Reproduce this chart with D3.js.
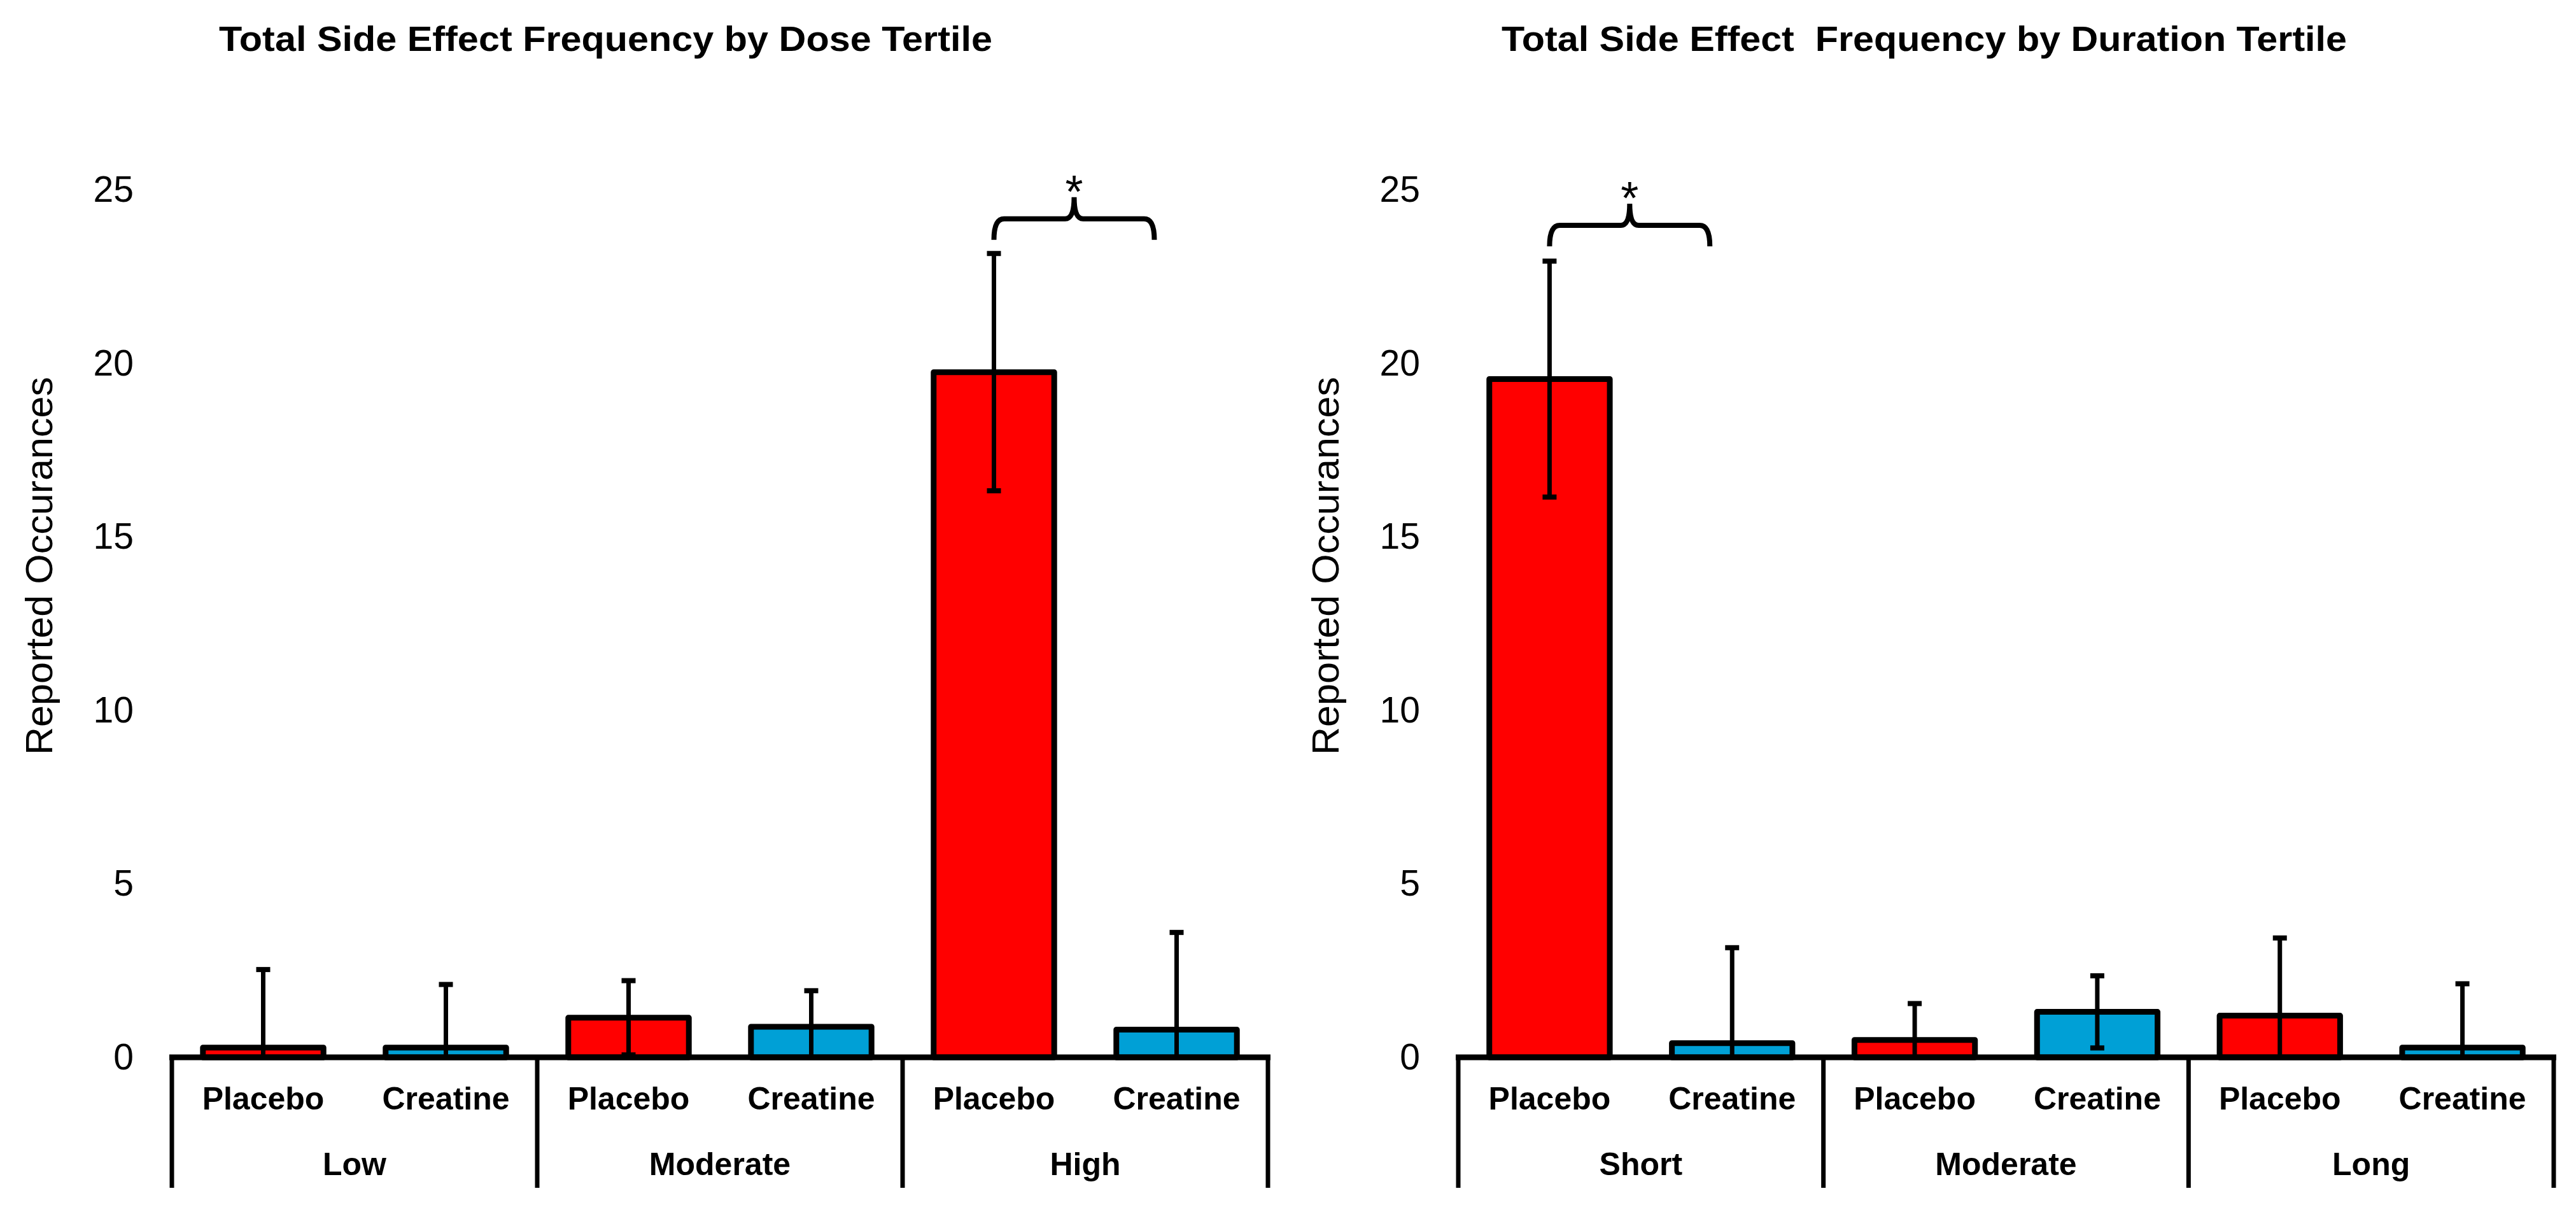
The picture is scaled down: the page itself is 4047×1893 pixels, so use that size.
<!DOCTYPE html>
<html>
<head>
<meta charset="utf-8">
<script src="https://cdn.jsdelivr.net/npm/d3@7"></script>
<style>
  html, body { margin: 0; padding: 0; background: #fff; }
  svg { display: block; }
  .tick text { font-family: "Liberation Sans", Arial, sans-serif; }
</style>
</head>
<body>
<div id="chart"></div>
<script>
const groups = ['Placebo', 'Creatine']

const doseTertiles = ['Low', 'Moderate', 'High']
const dosePlacebo = [0.28, 1.14, 19.75]
const doseCreatine = [0.28, 0.88, 0.8]
const dosePlaceboSd = [2.25, 1.07, 3.42]
const doseCreatineSd = [1.82, 1.04, 2.8]

const durationTertiles = ['Short', 'Moderate', 'Long']
const durationPlacebo = [19.55, 0.5, 1.2]
const durationCreatine = [0.41, 1.31, 0.28]
const durationPlaceboSd = [3.4, 1.05, 2.24]
const durationCreatineSd = [2.75, 1.04, 1.84]

const yTicks = [0, 5, 10, 15, 20, 25]
const colors = { Placebo: '#ff0000', Creatine: '#00a0d6' }

const width = 4047
const height = 1893
const y0 = 1661

const svg = d3.select('#chart')
  .append('svg')
  .attr('width', width)
  .attr('height', height)
  .attr('viewBox', `0 0 ${width} ${height}`)

const y = d3.scaleLinear().domain([0, 25]).range([y0, y0 - 25 * 54.5])

drawPanel(svg, {
  id: 'dose',
  title: 'Total Side Effect Frequency by Dose Tertile',
  titleX: 344, titleW: 1215,
  left: 270, right: 1992,
  categories: doseTertiles,
  placebo: dosePlacebo, creatine: doseCreatine,
  placeboSd: dosePlaceboSd, creatineSd: doseCreatineSd,
  sig: { category: 'High', level: 24.17 }
})

drawPanel(svg, {
  id: 'duration',
  title: 'Total Side Effect  Frequency by Duration Tertile',
  titleX: 2359, titleW: 1328,
  left: 2291, right: 4012,
  categories: durationTertiles,
  placebo: durationPlacebo, creatine: durationCreatine,
  placeboSd: durationPlaceboSd, creatineSd: durationCreatineSd,
  sig: { category: 'Short', level: 23.98 }
})

function drawPanel(svg, p) {
  const rows = p.categories.flatMap((c, i) => [
    { category: c, group: 'Placebo', value: p.placebo[i], sd: p.placeboSd[i] },
    { category: c, group: 'Creatine', value: p.creatine[i], sd: p.creatineSd[i] }
  ])

  const x0 = d3.scaleBand().domain(p.categories).range([p.left, p.right]).padding(0)
  const x1 = d3.scaleBand().domain(groups)
    .range([0, x0.bandwidth()])
    .paddingInner(0.34)
    .paddingOuter(0.17)
  const cx = d => x0(d.category) + x1(d.group) + x1.bandwidth() / 2

  const g = svg.append('g').attr('class', p.id)

  // title
  g.append('text')
    .attr('x', p.titleX)
    .attr('y', 80)
    .attr('textLength', p.titleW)
    .attr('lengthAdjust', 'spacingAndGlyphs')
    .style('font-family', '"Liberation Sans", Arial, sans-serif')
    .style('font-weight', 'bold')
    .style('font-size', '56px')
    .style('white-space', 'pre')
    .text(p.title)

  // y axis, labels only
  const yAxis = g.append('g')
    .attr('transform', `translate(${p.left},0)`)
    .call(d3.axisLeft(y).tickValues(yTicks).tickSize(0).tickPadding(60))
  yAxis.select('.domain').remove()
  yAxis.selectAll('text')
    .style('font-size', '57px')
    .attr('fill', '#000')

  g.append('text')
    .attr('transform', `translate(${p.left - 188},889) rotate(-90)`)
    .attr('text-anchor', 'middle')
    .attr('textLength', 594)
    .attr('lengthAdjust', 'spacingAndGlyphs')
    .style('font-family', '"Liberation Sans", Arial, sans-serif')
    .style('font-size', '59px')
    .text('Reported Occurances')

  // bars
  g.selectAll('.bar')
    .data(rows)
    .enter()
    .append('rect')
    .attr('class', 'bar')
    .attr('x', d => x0(d.category) + x1(d.group))
    .attr('y', d => y(d.value))
    .attr('width', x1.bandwidth())
    .attr('height', d => y0 - y(d.value))
    .attr('fill', d => colors[d.group])
    .attr('stroke', '#000')
    .attr('stroke-width', 9)
    .attr('stroke-linejoin', 'round')

  // baseline and category dividers
  g.append('line')
    .attr('x1', p.left - 4).attr('x2', p.right + 4)
    .attr('y1', y0).attr('y2', y0)
    .attr('stroke', '#000')
    .attr('stroke-width', 9)

  const edges = p.categories.map(c => x0(c)).concat([p.right])
  g.selectAll('.divider')
    .data(edges)
    .enter()
    .append('line')
    .attr('class', 'divider')
    .attr('x1', d => d).attr('x2', d => d)
    .attr('y1', y0).attr('y2', y0 + 205)
    .attr('stroke', '#000')
    .attr('stroke-width', 7)

  // error bars, clipped at the baseline
  svg.append('clipPath')
    .attr('id', `clip-${p.id}`)
    .append('rect')
    .attr('x', p.left - 50)
    .attr('y', 0)
    .attr('width', p.right - p.left + 100)
    .attr('height', y0 - 2)

  const err = g.append('g').attr('clip-path', `url(#clip-${p.id})`)
  err.selectAll('.err')
    .data(rows)
    .enter()
    .append('line')
    .attr('class', 'err')
    .attr('x1', cx).attr('x2', cx)
    .attr('y1', d => y(d.value + d.sd))
    .attr('y2', d => y(d.value - d.sd))
    .attr('stroke', '#000')
    .attr('stroke-width', 7)

  const caps = rows.flatMap(d => [
    { x: cx(d), v: d.value + d.sd },
    { x: cx(d), v: d.value - d.sd }
  ])
  err.selectAll('.cap')
    .data(caps)
    .enter()
    .append('line')
    .attr('class', 'cap')
    .attr('x1', d => d.x - 11).attr('x2', d => d.x + 11)
    .attr('y1', d => y(d.v)).attr('y2', d => y(d.v))
    .attr('stroke', '#000')
    .attr('stroke-width', 8)

  // group and category labels
  g.selectAll('.group-label')
    .data(rows)
    .enter()
    .append('text')
    .attr('class', 'group-label')
    .attr('x', cx)
    .attr('y', 1743)
    .attr('text-anchor', 'middle')
    .style('font-family', '"Liberation Sans", Arial, sans-serif')
    .style('font-weight', 'bold')
    .style('font-size', '50px')
    .text(d => d.group)

  g.selectAll('.cat-label')
    .data(p.categories)
    .enter()
    .append('text')
    .attr('class', 'cat-label')
    .attr('x', d => x0(d) + x0.bandwidth() / 2)
    .attr('y', 1846)
    .attr('text-anchor', 'middle')
    .style('font-family', '"Liberation Sans", Arial, sans-serif')
    .style('font-weight', 'bold')
    .style('font-size', '50px')
    .text(d => d)

  // significance brace
  const bx0 = x0(p.sig.category) + x1('Placebo') + x1.bandwidth() / 2
  const bx1 = x0(p.sig.category) + x1('Creatine') + x1.bandwidth() / 2 - 35
  const bm = (bx0 + bx1) / 2
  const by = y(p.sig.level)
  const path = d3.path()
  path.moveTo(bx0, by + 33)
  path.quadraticCurveTo(bx0, by, bx0 + 16, by)
  path.lineTo(bm - 14, by)
  path.quadraticCurveTo(bm, by, bm, by - 34)
  path.quadraticCurveTo(bm, by, bm + 14, by)
  path.lineTo(bx1 - 16, by)
  path.quadraticCurveTo(bx1, by, bx1, by + 33)

  g.append('path')
    .attr('d', path.toString())
    .attr('fill', 'none')
    .attr('stroke', '#000')
    .attr('stroke-width', 8)

  g.append('text')
    .attr('x', bm)
    .attr('y', by - 18)
    .attr('text-anchor', 'middle')
    .style('font-family', '"Liberation Sans", Arial, sans-serif')
    .style('font-size', '72px')
    .text('*')
}
</script>
</body>
</html>
